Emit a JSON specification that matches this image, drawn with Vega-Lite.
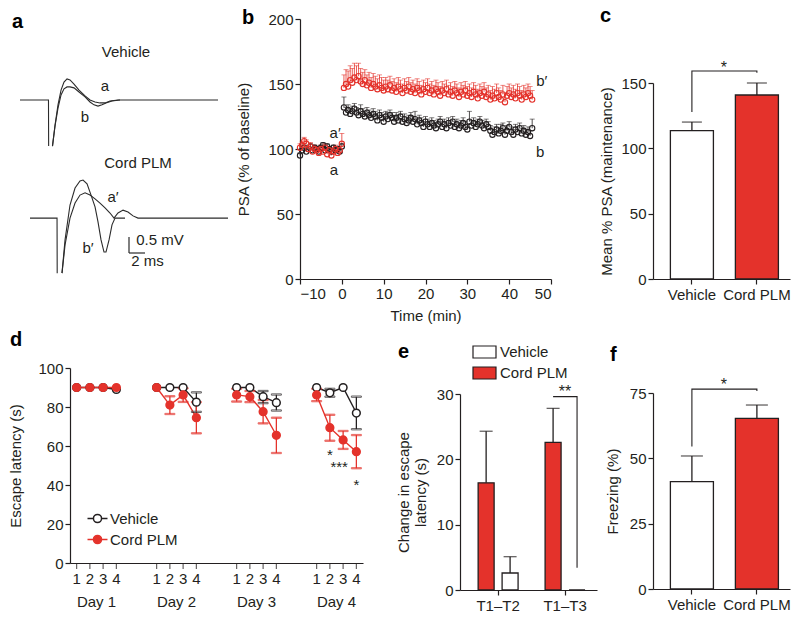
{
  "$schema": "https://vega.github.io/schema/vega-lite/v6.json",
  "autosize": "none",
  "padding": {"left": 70, "top": 19, "right": 730, "bottom": 602},
  "background": "white",
  "columns": 3,
  "bounds": "flush",
  "align": "each",
  "spacing": {"row": 89, "column": 56},
  "resolve": {
    "scale": {"color": "independent", "fill": "independent", "stroke": "independent", "xOffset": "independent"},
    "legend": {"color": "independent", "fill": "independent", "stroke": "independent"}
  },
  "config": {
    "font": "Liberation Sans",
    "view": {"stroke": null},
    "axis": {"grid": false, "domainColor": "#231f20", "tickColor": "#231f20", "labelColor": "#231f20", "titleColor": "#231f20", "labelFontSize": 15, "titleFontSize": 15, "titleFontWeight": "normal", "tickSize": 5, "domainWidth": 1.2, "tickWidth": 1.2, "labelPadding": 2, "labelOverlap": false},
    "legend": {"labelFontSize": 15, "labelColor": "#231f20", "padding": 0, "symbolOpacity": 1},
    "title": {"fontSize": 20, "fontWeight": "bold", "anchor": "start", "frame": "group", "color": "#000000", "offset": 0}
  },
  "datasets": {
    "traces": [
      {"seg":"v1","t":0,"v":4.78},{"seg":"v1","t":3.56,"v":4.78},{"seg":"v1","t":3.58,"v":3.34},
      {"seg":"va","t":4.06,"v":3.34},{"seg":"va","t":4.38,"v":4.0},{"seg":"va","t":4.75,"v":4.63},{"seg":"va","t":5.13,"v":5.09},{"seg":"va","t":5.5,"v":5.34},{"seg":"va","t":5.88,"v":5.44},{"seg":"va","t":6.25,"v":5.41},{"seg":"va","t":6.75,"v":5.28},{"seg":"va","t":7.38,"v":5.09},{"seg":"va","t":8.13,"v":4.91},{"seg":"va","t":8.75,"v":4.78},{"seg":"va","t":9.38,"v":4.72},{"seg":"va","t":10,"v":4.69},{"seg":"va","t":10.63,"v":4.69},{"seg":"va","t":11.25,"v":4.75},{"seg":"va","t":12.25,"v":4.78},{"seg":"va","t":24.75,"v":4.78},
      {"seg":"vb","t":4.06,"v":3.34},{"seg":"vb","t":4.38,"v":3.97},{"seg":"vb","t":4.75,"v":4.53},{"seg":"vb","t":5.13,"v":4.94},{"seg":"vb","t":5.5,"v":5.13},{"seg":"vb","t":5.88,"v":5.19},{"seg":"vb","t":6.25,"v":5.19},{"seg":"vb","t":6.75,"v":5.16},{"seg":"vb","t":7.38,"v":5.03},{"seg":"vb","t":8.13,"v":4.88},{"seg":"vb","t":8.75,"v":4.72},{"seg":"vb","t":9.25,"v":4.63},{"seg":"vb","t":9.75,"v":4.59},{"seg":"vb","t":10.25,"v":4.63},{"seg":"vb","t":10.75,"v":4.69},{"seg":"vb","t":11.5,"v":4.75},{"seg":"vb","t":12.5,"v":4.78},
      {"seg":"c1","t":1.25,"v":1.09},{"seg":"c1","t":4.63,"v":1.09},{"seg":"c1","t":4.65,"v":-0.63},
      {"seg":"cb","t":5.25,"v":-0.63},{"seg":"cb","t":5.63,"v":0.41},{"seg":"cb","t":6.25,"v":1.5},{"seg":"cb","t":6.88,"v":2.03},{"seg":"cb","t":7.5,"v":2.25},{"seg":"cb","t":7.88,"v":2.28},{"seg":"cb","t":8.38,"v":2.16},{"seg":"cb","t":8.88,"v":1.81},{"seg":"cb","t":9.38,"v":1.44},{"seg":"cb","t":9.75,"v":0.97},{"seg":"cb","t":10.13,"v":0.41},{"seg":"cb","t":10.5,"v":0.03},{"seg":"cb","t":10.75,"v":0.03},{"seg":"cb","t":11.13,"v":0.41},{"seg":"cb","t":11.5,"v":0.88},{"seg":"cb","t":11.88,"v":1.09},{"seg":"cb","t":13.13,"v":1.09},
      {"seg":"ca","t":5.25,"v":-0.63},{"seg":"ca","t":5.63,"v":0.25},{"seg":"ca","t":6.25,"v":1.09},{"seg":"ca","t":6.88,"v":1.56},{"seg":"ca","t":7.5,"v":1.81},{"seg":"ca","t":8.13,"v":1.88},{"seg":"ca","t":8.75,"v":1.81},{"seg":"ca","t":9.38,"v":1.69},{"seg":"ca","t":10,"v":1.56},{"seg":"ca","t":10.63,"v":1.41},{"seg":"ca","t":11.25,"v":1.25},{"seg":"ca","t":11.75,"v":1.09},{"seg":"ca","t":12.25,"v":1.25},{"seg":"ca","t":12.88,"v":1.34},{"seg":"ca","t":13.5,"v":1.28},{"seg":"ca","t":14.13,"v":1.16},{"seg":"ca","t":14.75,"v":1.09},{"seg":"ca","t":26,"v":1.09}
    ],
    "scalebar": [
      {"t":13.625,"v":0,"t2":13.625,"v2":0.5},
      {"t":13.625,"v":0,"t2":15.625,"v2":0}
    ],
    "alabels": [
      {"t":13.25,"v":6.28,"label":"Vehicle"},
      {"t":14.75,"v":2.81,"label":"Cord PLM"},
      {"t":10.63,"v":5.22,"label":"a"},
      {"t":8.13,"v":4.25,"label":"b"},
      {"t":11.63,"v":1.75,"label":"a′"},
      {"t":8.5,"v":0.16,"label":"b′"},
      {"t":17.5,"v":0.41,"label":"0.5 mV"},
      {"t":15.94,"v":-0.25,"label":"2 ms"}
    ],
    "blabels": [
      {"t":-1.6,"v":112,"label":"a′"},
      {"t":-1.9,"v":84,"label":"a"},
      {"t":47.8,"v":152,"label":"b′"},
      {"t":47.4,"v":98,"label":"b"}
    ],
    "psa": [
      {"t":-10,"g":"Vehicle","m":95,"hi":97},{"t":-9.5,"g":"Vehicle","m":99,"hi":101},{"t":-9,"g":"Vehicle","m":101,"hi":103},{"t":-8.5,"g":"Vehicle","m":98,"hi":100},{"t":-8,"g":"Vehicle","m":100,"hi":102},{"t":-7.5,"g":"Vehicle","m":102,"hi":104},{"t":-7,"g":"Vehicle","m":99,"hi":101},{"t":-6.5,"g":"Vehicle","m":101,"hi":103},{"t":-6,"g":"Vehicle","m":100,"hi":102},{"t":-5.5,"g":"Vehicle","m":98,"hi":100},{"t":-5,"g":"Vehicle","m":101,"hi":103},{"t":-4.5,"g":"Vehicle","m":103,"hi":105},{"t":-4,"g":"Vehicle","m":99,"hi":101},{"t":-3.5,"g":"Vehicle","m":102,"hi":104},{"t":-3,"g":"Vehicle","m":100,"hi":102},{"t":-2.5,"g":"Vehicle","m":98,"hi":100},{"t":-2,"g":"Vehicle","m":101,"hi":103},{"t":-1.5,"g":"Vehicle","m":99,"hi":101},{"t":-1,"g":"Vehicle","m":100,"hi":102},{"t":-0.5,"g":"Vehicle","m":98,"hi":100},{"t":0,"g":"Vehicle","m":102,"hi":104},
      {"t":0.5,"g":"Vehicle","m":132,"hi":140},{"t":1,"g":"Vehicle","m":128,"hi":132},{"t":1.5,"g":"Vehicle","m":130,"hi":134},{"t":2,"g":"Vehicle","m":127,"hi":131},{"t":2.5,"g":"Vehicle","m":129,"hi":133},{"t":3,"g":"Vehicle","m":131,"hi":135},{"t":3.5,"g":"Vehicle","m":128,"hi":132},{"t":4,"g":"Vehicle","m":126,"hi":131},{"t":4.5,"g":"Vehicle","m":129,"hi":134},{"t":5,"g":"Vehicle","m":127,"hi":131},
      {"t":5.5,"g":"Vehicle","m":125,"hi":129},{"t":6,"g":"Vehicle","m":128,"hi":132},{"t":6.5,"g":"Vehicle","m":126,"hi":130},{"t":7,"g":"Vehicle","m":124,"hi":128},{"t":7.5,"g":"Vehicle","m":127,"hi":131},{"t":8,"g":"Vehicle","m":125,"hi":129},{"t":8.5,"g":"Vehicle","m":122,"hi":126},{"t":9,"g":"Vehicle","m":126,"hi":130},{"t":9.5,"g":"Vehicle","m":124,"hi":128},{"t":10,"g":"Vehicle","m":121,"hi":125},
      {"t":10.5,"g":"Vehicle","m":125,"hi":129},{"t":11,"g":"Vehicle","m":123,"hi":128},{"t":11.5,"g":"Vehicle","m":126,"hi":130},{"t":12,"g":"Vehicle","m":124,"hi":128},{"t":12.5,"g":"Vehicle","m":121,"hi":125},{"t":13,"g":"Vehicle","m":124,"hi":128},{"t":13.5,"g":"Vehicle","m":122,"hi":126},{"t":14,"g":"Vehicle","m":125,"hi":129},{"t":14.5,"g":"Vehicle","m":121,"hi":125},{"t":15,"g":"Vehicle","m":123,"hi":127},
      {"t":15.5,"g":"Vehicle","m":120,"hi":124},{"t":16,"g":"Vehicle","m":122,"hi":126},{"t":16.5,"g":"Vehicle","m":124,"hi":128},{"t":17,"g":"Vehicle","m":121,"hi":125},{"t":17.5,"g":"Vehicle","m":123,"hi":129},{"t":18,"g":"Vehicle","m":119,"hi":123},{"t":18.5,"g":"Vehicle","m":122,"hi":126},{"t":19,"g":"Vehicle","m":120,"hi":124},{"t":19.5,"g":"Vehicle","m":117,"hi":121},{"t":20,"g":"Vehicle","m":121,"hi":125},
      {"t":20.5,"g":"Vehicle","m":119,"hi":123},{"t":21,"g":"Vehicle","m":117,"hi":121},{"t":21.5,"g":"Vehicle","m":120,"hi":124},{"t":22,"g":"Vehicle","m":118,"hi":122},{"t":22.5,"g":"Vehicle","m":116,"hi":120},{"t":23,"g":"Vehicle","m":119,"hi":123},{"t":23.5,"g":"Vehicle","m":121,"hi":125},{"t":24,"g":"Vehicle","m":117,"hi":121},{"t":24.5,"g":"Vehicle","m":119,"hi":123},{"t":25,"g":"Vehicle","m":116,"hi":120},
      {"t":25.5,"g":"Vehicle","m":120,"hi":124},{"t":26,"g":"Vehicle","m":118,"hi":122},{"t":26.5,"g":"Vehicle","m":121,"hi":125},{"t":27,"g":"Vehicle","m":117,"hi":121},{"t":27.5,"g":"Vehicle","m":119,"hi":123},{"t":28,"g":"Vehicle","m":116,"hi":120},{"t":28.5,"g":"Vehicle","m":118,"hi":122},{"t":29,"g":"Vehicle","m":120,"hi":124},{"t":29.5,"g":"Vehicle","m":117,"hi":121},{"t":30,"g":"Vehicle","m":115,"hi":119},
      {"t":30.5,"g":"Vehicle","m":121,"hi":129},{"t":31,"g":"Vehicle","m":118,"hi":122},{"t":31.5,"g":"Vehicle","m":120,"hi":124},{"t":32,"g":"Vehicle","m":117,"hi":121},{"t":32.5,"g":"Vehicle","m":119,"hi":123},{"t":33,"g":"Vehicle","m":121,"hi":125},{"t":33.5,"g":"Vehicle","m":118,"hi":122},{"t":34,"g":"Vehicle","m":116,"hi":120},{"t":34.5,"g":"Vehicle","m":119,"hi":123},{"t":35,"g":"Vehicle","m":117,"hi":121},
      {"t":35.5,"g":"Vehicle","m":114,"hi":118},{"t":36,"g":"Vehicle","m":111,"hi":115},{"t":36.5,"g":"Vehicle","m":113,"hi":117},{"t":37,"g":"Vehicle","m":115,"hi":119},{"t":37.5,"g":"Vehicle","m":112,"hi":116},{"t":38,"g":"Vehicle","m":114,"hi":119},{"t":38.5,"g":"Vehicle","m":116,"hi":120},{"t":39,"g":"Vehicle","m":111,"hi":115},{"t":39.5,"g":"Vehicle","m":114,"hi":118},{"t":40,"g":"Vehicle","m":117,"hi":121},
      {"t":40.5,"g":"Vehicle","m":113,"hi":117},{"t":41,"g":"Vehicle","m":111,"hi":115},{"t":41.5,"g":"Vehicle","m":115,"hi":119},{"t":42,"g":"Vehicle","m":113,"hi":117},{"t":42.5,"g":"Vehicle","m":116,"hi":120},{"t":43,"g":"Vehicle","m":112,"hi":116},{"t":43.5,"g":"Vehicle","m":114,"hi":118},{"t":44,"g":"Vehicle","m":111,"hi":115},{"t":44.5,"g":"Vehicle","m":113,"hi":117},{"t":45,"g":"Vehicle","m":110,"hi":114},{"t":45.5,"g":"Vehicle","m":116,"hi":123},
      {"t":-10,"g":"Cord PLM","m":101,"hi":104},{"t":-9.5,"g":"Cord PLM","m":103,"hi":106},{"t":-9,"g":"Cord PLM","m":106,"hi":109},{"t":-8.5,"g":"Cord PLM","m":104,"hi":107},{"t":-8,"g":"Cord PLM","m":100,"hi":103},{"t":-7.5,"g":"Cord PLM","m":102,"hi":105},{"t":-7,"g":"Cord PLM","m":98,"hi":101},{"t":-6.5,"g":"Cord PLM","m":100,"hi":103},{"t":-6,"g":"Cord PLM","m":99,"hi":102},{"t":-5.5,"g":"Cord PLM","m":97,"hi":100},{"t":-5,"g":"Cord PLM","m":100,"hi":103},{"t":-4.5,"g":"Cord PLM","m":98,"hi":101},{"t":-4,"g":"Cord PLM","m":101,"hi":104},{"t":-3.5,"g":"Cord PLM","m":96,"hi":99},{"t":-3,"g":"Cord PLM","m":99,"hi":102},{"t":-2.5,"g":"Cord PLM","m":95,"hi":98},{"t":-2,"g":"Cord PLM","m":98,"hi":101},{"t":-1.5,"g":"Cord PLM","m":100,"hi":103},{"t":-1,"g":"Cord PLM","m":97,"hi":100},{"t":-0.5,"g":"Cord PLM","m":99,"hi":102},{"t":0,"g":"Cord PLM","m":104,"hi":112},
      {"t":0.5,"g":"Cord PLM","m":147,"hi":157},{"t":1,"g":"Cord PLM","m":150,"hi":161},{"t":1.5,"g":"Cord PLM","m":148,"hi":160},{"t":2,"g":"Cord PLM","m":153,"hi":164},{"t":2.5,"g":"Cord PLM","m":151,"hi":162},{"t":3,"g":"Cord PLM","m":155,"hi":166},{"t":3.5,"g":"Cord PLM","m":153,"hi":164},{"t":4,"g":"Cord PLM","m":156,"hi":166},{"t":4.5,"g":"Cord PLM","m":152,"hi":162},{"t":5,"g":"Cord PLM","m":150,"hi":159},
      {"t":5.5,"g":"Cord PLM","m":153,"hi":161},{"t":6,"g":"Cord PLM","m":149,"hi":157},{"t":6.5,"g":"Cord PLM","m":151,"hi":159},{"t":7,"g":"Cord PLM","m":147,"hi":155},{"t":7.5,"g":"Cord PLM","m":150,"hi":158},{"t":8,"g":"Cord PLM","m":148,"hi":156},{"t":8.5,"g":"Cord PLM","m":146,"hi":154},{"t":9,"g":"Cord PLM","m":149,"hi":157},{"t":9.5,"g":"Cord PLM","m":147,"hi":155},{"t":10,"g":"Cord PLM","m":145,"hi":153},
      {"t":10.5,"g":"Cord PLM","m":148,"hi":155},{"t":11,"g":"Cord PLM","m":146,"hi":153},{"t":11.5,"g":"Cord PLM","m":149,"hi":156},{"t":12,"g":"Cord PLM","m":145,"hi":152},{"t":12.5,"g":"Cord PLM","m":147,"hi":154},{"t":13,"g":"Cord PLM","m":144,"hi":151},{"t":13.5,"g":"Cord PLM","m":148,"hi":155},{"t":14,"g":"Cord PLM","m":146,"hi":153},{"t":14.5,"g":"Cord PLM","m":143,"hi":150},{"t":15,"g":"Cord PLM","m":147,"hi":154},
      {"t":15.5,"g":"Cord PLM","m":145,"hi":152},{"t":16,"g":"Cord PLM","m":148,"hi":155},{"t":16.5,"g":"Cord PLM","m":144,"hi":151},{"t":17,"g":"Cord PLM","m":146,"hi":153},{"t":17.5,"g":"Cord PLM","m":143,"hi":150},{"t":18,"g":"Cord PLM","m":147,"hi":154},{"t":18.5,"g":"Cord PLM","m":145,"hi":152},{"t":19,"g":"Cord PLM","m":142,"hi":149},{"t":19.5,"g":"Cord PLM","m":146,"hi":153},{"t":20,"g":"Cord PLM","m":144,"hi":151},
      {"t":20.5,"g":"Cord PLM","m":147,"hi":154},{"t":21,"g":"Cord PLM","m":143,"hi":150},{"t":21.5,"g":"Cord PLM","m":145,"hi":152},{"t":22,"g":"Cord PLM","m":142,"hi":149},{"t":22.5,"g":"Cord PLM","m":146,"hi":153},{"t":23,"g":"Cord PLM","m":144,"hi":151},{"t":23.5,"g":"Cord PLM","m":141,"hi":148},{"t":24,"g":"Cord PLM","m":145,"hi":152},{"t":24.5,"g":"Cord PLM","m":143,"hi":150},{"t":25,"g":"Cord PLM","m":146,"hi":153},
      {"t":25.5,"g":"Cord PLM","m":142,"hi":149},{"t":26,"g":"Cord PLM","m":144,"hi":151},{"t":26.5,"g":"Cord PLM","m":141,"hi":148},{"t":27,"g":"Cord PLM","m":145,"hi":152},{"t":27.5,"g":"Cord PLM","m":143,"hi":150},{"t":28,"g":"Cord PLM","m":140,"hi":147},{"t":28.5,"g":"Cord PLM","m":144,"hi":151},{"t":29,"g":"Cord PLM","m":142,"hi":149},{"t":29.5,"g":"Cord PLM","m":145,"hi":152},{"t":30,"g":"Cord PLM","m":141,"hi":148},
      {"t":30.5,"g":"Cord PLM","m":143,"hi":150},{"t":31,"g":"Cord PLM","m":140,"hi":147},{"t":31.5,"g":"Cord PLM","m":144,"hi":151},{"t":32,"g":"Cord PLM","m":142,"hi":149},{"t":32.5,"g":"Cord PLM","m":139,"hi":146},{"t":33,"g":"Cord PLM","m":143,"hi":150},{"t":33.5,"g":"Cord PLM","m":141,"hi":148},{"t":34,"g":"Cord PLM","m":144,"hi":151},{"t":34.5,"g":"Cord PLM","m":140,"hi":147},{"t":35,"g":"Cord PLM","m":142,"hi":149},
      {"t":35.5,"g":"Cord PLM","m":138,"hi":145},{"t":36,"g":"Cord PLM","m":141,"hi":148},{"t":36.5,"g":"Cord PLM","m":139,"hi":146},{"t":37,"g":"Cord PLM","m":143,"hi":150},{"t":37.5,"g":"Cord PLM","m":140,"hi":147},{"t":38,"g":"Cord PLM","m":138,"hi":145},{"t":38.5,"g":"Cord PLM","m":142,"hi":149},{"t":39,"g":"Cord PLM","m":136,"hi":143},{"t":39.5,"g":"Cord PLM","m":141,"hi":148},{"t":40,"g":"Cord PLM","m":143,"hi":150},
      {"t":40.5,"g":"Cord PLM","m":140,"hi":147},{"t":41,"g":"Cord PLM","m":142,"hi":149},{"t":41.5,"g":"Cord PLM","m":139,"hi":146},{"t":42,"g":"Cord PLM","m":143,"hi":150},{"t":42.5,"g":"Cord PLM","m":141,"hi":148},{"t":43,"g":"Cord PLM","m":138,"hi":145},{"t":43.5,"g":"Cord PLM","m":142,"hi":149},{"t":44,"g":"Cord PLM","m":140,"hi":147},{"t":44.5,"g":"Cord PLM","m":143,"hi":150},{"t":45,"g":"Cord PLM","m":141,"hi":148},{"t":45.5,"g":"Cord PLM","m":138,"hi":145}
    ],
    "cbars": [
      {"g":"Vehicle","m":113.5,"hi":120.1},
      {"g":"Cord PLM","m":140.8,"hi":150}
    ],
    "cbracket": [
      {"g":"Vehicle","y":127.8,"k":1},{"g":"Vehicle","y":159.2,"k":2},{"g":"Cord PLM","y":159.2,"k":3},{"g":"Cord PLM","y":157.8,"k":4}
    ],
    "cstar": [{"g":"Vehicle","y":161.5,"s":"*"}],
    "water": [
      {"g":"Vehicle","day":"Day 1","trial":1,"m":90},{"g":"Vehicle","day":"Day 1","trial":2,"m":90},{"g":"Vehicle","day":"Day 1","trial":3,"m":90},{"g":"Vehicle","day":"Day 1","trial":4,"m":89},
      {"g":"Vehicle","day":"Day 2","trial":1,"m":90},{"g":"Vehicle","day":"Day 2","trial":2,"m":90},{"g":"Vehicle","day":"Day 2","trial":3,"m":90},{"g":"Vehicle","day":"Day 2","trial":4,"m":82.5,"lo":77.5,"hi":87.5},
      {"g":"Vehicle","day":"Day 3","trial":1,"m":90},{"g":"Vehicle","day":"Day 3","trial":2,"m":90},{"g":"Vehicle","day":"Day 3","trial":3,"m":85.3,"lo":82,"hi":88.2},{"g":"Vehicle","day":"Day 3","trial":4,"m":82.2,"lo":78.2,"hi":86.4},
      {"g":"Vehicle","day":"Day 4","trial":1,"m":90},{"g":"Vehicle","day":"Day 4","trial":2,"m":87.3,"lo":85.3,"hi":89.3},{"g":"Vehicle","day":"Day 4","trial":3,"m":90},{"g":"Vehicle","day":"Day 4","trial":4,"m":76.9,"lo":68.6,"hi":85.3},
      {"g":"Cord PLM","day":"Day 1","trial":1,"m":90},{"g":"Cord PLM","day":"Day 1","trial":2,"m":90},{"g":"Cord PLM","day":"Day 1","trial":3,"m":90},{"g":"Cord PLM","day":"Day 1","trial":4,"m":90},
      {"g":"Cord PLM","day":"Day 2","trial":1,"m":90},{"g":"Cord PLM","day":"Day 2","trial":2,"m":81,"lo":76.4,"hi":85.5},{"g":"Cord PLM","day":"Day 2","trial":3,"m":86.2,"lo":82.6,"hi":89.6},{"g":"Cord PLM","day":"Day 2","trial":4,"m":74.5,"lo":66.5,"hi":82.5},
      {"g":"Cord PLM","day":"Day 3","trial":1,"m":86.2,"lo":82.8,"hi":89.4},{"g":"Cord PLM","day":"Day 3","trial":2,"m":85.3,"lo":82.5,"hi":88.2},{"g":"Cord PLM","day":"Day 3","trial":3,"m":77.6,"lo":71.6,"hi":83.6},{"g":"Cord PLM","day":"Day 3","trial":4,"m":65.5,"lo":56.4,"hi":74.5},
      {"g":"Cord PLM","day":"Day 4","trial":1,"m":86.2,"lo":83,"hi":89.4},{"g":"Cord PLM","day":"Day 4","trial":2,"m":69.4,"lo":62.7,"hi":76},{"g":"Cord PLM","day":"Day 4","trial":3,"m":63.1,"lo":58.5,"hi":67.7},{"g":"Cord PLM","day":"Day 4","trial":4,"m":57.1,"lo":48.6,"hi":65.6}
    ],
    "dstars": [
      {"day":"Day 4","trial":2,"y":55.4,"s":"*"},
      {"day":"Day 4","trial":3,"y":49.2,"s":"***"},
      {"day":"Day 4","trial":4,"y":40,"s":"*"}
    ],
    "delta": [
      {"pair":"T1–T2","g":"Cord PLM","m":16.4,"hi":24.3},
      {"pair":"T1–T2","g":"Vehicle","m":2.6,"hi":5.1},
      {"pair":"T1–T3","g":"Cord PLM","m":22.6,"hi":27.8},
      {"pair":"T1–T3","g":"Vehicle","m":0}
    ],
    "ebracket": [
      {"pair":"T1–T3","g":"Cord PLM","y":29.6,"k":1},
      {"pair":"T1–T3","g":"Vehicle","y":29.6,"k":2},
      {"pair":"T1–T3","g":"Vehicle","y":3.4,"k":3}
    ],
    "estar": [{"pair":"T1–T3","y":30.3,"s":"**"}],
    "fbars": [
      {"g":"Vehicle","m":41.1,"hi":50.9},
      {"g":"Cord PLM","m":65.3,"hi":70.4}
    ],
    "fbracket": [
      {"g":"Vehicle","y":54.5,"k":1},{"g":"Vehicle","y":76.5,"k":2},{"g":"Cord PLM","y":76.5,"k":3},{"g":"Cord PLM","y":75.8,"k":4}
    ],
    "fstar": [{"g":"Vehicle","y":78.2,"s":"*"}]
  },
  "concat": [
    {
      "width": 334, "height": 234,
      "title": {"text": "a", "dx": -58, "dy": 17},
      "layer": [
        {
          "data": {"name": "traces"},
          "mark": {"type": "line", "color": "#2b2b2b", "strokeWidth": 1.1},
          "encoding": {
            "x": {"field": "t", "type": "quantitative", "scale": {"domain": [6.25, 48], "nice": false, "zero": false}, "axis": null},
            "y": {"field": "v", "type": "quantitative", "scale": {"domain": [0, 7.3125], "nice": false, "zero": false}, "axis": null},
            "detail": {"field": "seg", "type": "nominal"}
          }
        },
        {
          "data": {"name": "scalebar"},
          "mark": {"type": "rule", "color": "#2b2b2b", "strokeWidth": 1.2},
          "encoding": {
            "x": {"field": "t", "type": "quantitative"},
            "y": {"field": "v", "type": "quantitative"},
            "x2": {"field": "t2"},
            "y2": {"field": "v2"}
          }
        },
        {
          "data": {"name": "alabels"},
          "mark": {"type": "text", "fontSize": 15, "color": "#231f20", "baseline": "middle"},
          "encoding": {
            "x": {"field": "t", "type": "quantitative"},
            "y": {"field": "v", "type": "quantitative"},
            "text": {"field": "label"}
          }
        }
      ]
    },
    {
      "width": 137, "height": 260,
      "title": {"text": "b", "dx": -218, "dy": 20},
      "encoding": {
        "x": {"field": "t", "type": "quantitative", "scale": {"domain": [-10, 50], "range": [-160, 91], "nice": false, "zero": false}, "axis": {"values": [-10, 0, 10, 20, 30, 40, 50], "title": "Time (min)", "titlePadding": 7}}
      },
      "layer": [
        {
          "data": {"name": "psa"},
          "mark": {"type": "rule", "strokeWidth": 0.8},
          "encoding": {
            "y": {"field": "m", "type": "quantitative", "scale": {"domain": [0, 200], "nice": false}, "axis": {"values": [0, 50, 100, 150, 200], "title": "PSA (% of baseline)", "titlePadding": 16, "offset": 160}},
            "y2": {"field": "hi"},
            "color": {"field": "g", "type": "nominal", "scale": {"domain": ["Vehicle", "Cord PLM"], "range": ["#231f20", "#e4322b"]}, "legend": null}
          }
        },
        {
          "data": {"name": "psa"},
          "mark": {"type": "tick", "orient": "horizontal", "size": 5, "thickness": 0.8},
          "encoding": {
            "y": {"field": "hi", "type": "quantitative"},
            "color": {"field": "g", "type": "nominal", "legend": null}
          }
        },
        {
          "data": {"name": "psa"},
          "mark": {"type": "point", "shape": "circle", "filled": false, "size": 28, "strokeWidth": 1.1, "opacity": 1},
          "encoding": {
            "y": {"field": "m", "type": "quantitative"},
            "stroke": {"field": "g", "type": "nominal", "scale": {"domain": ["Vehicle", "Cord PLM"], "range": ["#231f20", "#e4322b"]}, "legend": {"orient": "none", "legendX": -142, "legendY": 201, "title": null, "symbolType": "circle", "symbolSize": 38, "symbolStrokeWidth": 1.2, "symbolFillColor": "#ffffff", "labelFontSize": 15, "rowPadding": 5, "labelOffset": 1, "encode": {"symbols": {"update": {"fill": {"value": "#ffffff"}, "opacity": {"value": 1}}}}}}
          }
        },
        {
          "data": {"name": "blabels"},
          "mark": {"type": "text", "fontSize": 15, "color": "#231f20", "baseline": "middle"},
          "encoding": {
            "y": {"field": "v", "type": "quantitative"},
            "text": {"field": "label"}
          }
        }
      ]
    },
    {
      "width": 137, "height": 260,
      "title": {"text": "c", "dx": -53, "dy": 11},
      "encoding": {
        "x": {"field": "g", "type": "nominal", "sort": null, "scale": {"type": "band", "domain": ["Vehicle", "Cord PLM"], "paddingInner": 0.338, "paddingOuter": 0.223, "align": 0.6}, "axis": {"title": null, "labelAngle": 0, "labelPadding": 3}}
      },
      "layer": [
        {
          "data": {"name": "cbars"},
          "mark": {"type": "bar", "stroke": "#231f20", "strokeWidth": 1.3},
          "encoding": {
            "y": {"field": "m", "type": "quantitative", "scale": {"domain": [0, 150], "range": [260, 64], "nice": false}, "axis": {"values": [0, 50, 100, 150], "title": "Mean % PSA (maintenance)", "titlePadding": 6}},
            "fill": {"field": "g", "type": "nominal", "scale": {"domain": ["Vehicle", "Cord PLM"], "range": ["#ffffff", "#e4322b"]}, "legend": null}
          }
        },
        {
          "data": {"name": "cbars"},
          "mark": {"type": "rule", "color": "#231f20", "strokeWidth": 1.3},
          "encoding": {"y": {"field": "m", "type": "quantitative"}, "y2": {"field": "hi"}}
        },
        {
          "data": {"name": "cbars"},
          "mark": {"type": "tick", "orient": "horizontal", "size": 20, "thickness": 1.3, "color": "#231f20"},
          "encoding": {"y": {"field": "hi", "type": "quantitative"}}
        },
        {
          "data": {"name": "cbracket"},
          "mark": {"type": "line", "color": "#231f20", "strokeWidth": 1.1},
          "encoding": {"y": {"field": "y", "type": "quantitative"}, "order": {"field": "k", "type": "quantitative"}}
        },
        {
          "data": {"name": "cstar"},
          "mark": {"type": "text", "fontSize": 16, "dx": 32, "baseline": "middle", "color": "#231f20"},
          "encoding": {"y": {"field": "y", "type": "quantitative"}, "text": {"field": "s"}}
        }
      ]
    },
    {
      "width": 293, "height": 195,
      "title": {"text": "d", "dx": -60, "dy": -7},
      "encoding": {
        "x": {"field": "day", "type": "nominal", "sort": null, "scale": {"type": "band", "domain": ["Day 1", "Day 2", "Day 3", "Day 4"], "paddingInner": 0.3375, "paddingOuter": 0}, "axis": {"title": null, "ticks": false, "labelPadding": 31, "labelAngle": 0}}
      },
      "layer": [
        {
          "data": {"name": "water"},
          "mark": {"type": "line", "strokeWidth": 1.4},
          "encoding": {
            "xOffset": {"field": "trial", "type": "nominal", "scale": {"type": "band", "domain": [1, 2, 3, 4], "paddingInner": 0, "paddingOuter": 0}},
            "y": {"field": "m", "type": "quantitative", "scale": {"domain": [0, 100], "nice": false}, "axis": {"values": [0, 20, 40, 60, 80, 100], "tickCount": 6, "title": "Escape latency (s)", "titlePadding": 14, "labelOverlap": false}},
            "stroke": {"field": "g", "type": "nominal", "scale": {"domain": ["Vehicle", "Cord PLM"], "range": ["#231f20", "#e4322b"]}},
            "detail": {"field": "day", "type": "nominal"},
            "order": {"field": "trial", "type": "quantitative"}
          }
        },
        {
          "data": {"name": "water"},
          "mark": {"type": "rule", "strokeWidth": 1.3},
          "encoding": {
            "xOffset": {"field": "trial", "type": "nominal"},
            "y": {"field": "lo", "type": "quantitative"},
            "y2": {"field": "hi"},
            "stroke": {"field": "g", "type": "nominal"}
          }
        },
        {
          "data": {"name": "water"},
          "mark": {"type": "tick", "orient": "horizontal", "size": 10, "thickness": 1.3},
          "encoding": {"xOffset": {"field": "trial", "type": "nominal"}, "y": {"field": "lo", "type": "quantitative"}, "stroke": {"field": "g", "type": "nominal"}, "fill": {"field": "g", "type": "nominal"}}
        },
        {
          "data": {"name": "water"},
          "mark": {"type": "tick", "orient": "horizontal", "size": 10, "thickness": 1.3},
          "encoding": {"xOffset": {"field": "trial", "type": "nominal"}, "y": {"field": "hi", "type": "quantitative"}, "stroke": {"field": "g", "type": "nominal"}, "fill": {"field": "g", "type": "nominal"}}
        },
        {
          "data": {"name": "water"},
          "mark": {"type": "point", "shape": "circle", "size": 60, "strokeWidth": 1.5, "opacity": 1, "filled": true},
          "encoding": {
            "xOffset": {"field": "trial", "type": "nominal"},
            "y": {"field": "m", "type": "quantitative"},
            "stroke": {"field": "g", "type": "nominal", "legend": {"orient": "none", "legendX": 20, "legendY": 143, "title": null, "symbolType": "M-1.6,0H-0.65M0.65,0H1.6M-0.65,0A0.65,0.65,0,1,1,0.65,0A0.65,0.65,0,1,1,-0.65,0", "symbolSize": 156, "symbolStrokeWidth": 1.5, "symbolOpacity": 1, "labelFontSize": 15, "rowPadding": 5, "labelOffset": 5}},
            "fill": {"field": "g", "type": "nominal", "scale": {"domain": ["Vehicle", "Cord PLM"], "range": ["#ffffff", "#e4322b"]}, "legend": {"orient": "none", "legendX": 20, "legendY": 143, "title": null, "symbolType": "M-1.6,0H-0.65M0.65,0H1.6M-0.65,0A0.65,0.65,0,1,1,0.65,0A0.65,0.65,0,1,1,-0.65,0", "symbolSize": 156, "symbolStrokeWidth": 1.5, "symbolOpacity": 1, "labelFontSize": 15, "rowPadding": 5, "labelOffset": 5}}
          }
        },
        {
          "data": {"name": "dstars"},
          "transform": [{"filter": "datum.s === '*'"}],
          "mark": {"type": "text", "fontSize": 15, "baseline": "middle", "color": "#231f20"},
          "encoding": {"xOffset": {"field": "trial", "type": "nominal"}, "y": {"field": "y", "type": "quantitative"}, "text": {"field": "s"}}
        },
        {
          "data": {"name": "dstars"},
          "transform": [{"filter": "datum.s === '***'"}],
          "mark": {"type": "text", "fontSize": 15, "baseline": "middle", "dx": -4, "color": "#231f20"},
          "encoding": {"xOffset": {"field": "trial", "type": "nominal"}, "y": {"field": "y", "type": "quantitative"}, "text": {"field": "s"}}
        },
        {
          "data": {"name": "water"},
          "transform": [{"filter": "datum.g === 'Vehicle'"}],
          "mark": {"type": "tick", "orient": "vertical", "size": 6, "thickness": 1.2, "yOffset": 3, "color": "#231f20"},
          "encoding": {"xOffset": {"field": "trial", "type": "nominal"}, "y": {"datum": 0, "type": "quantitative"}}
        },
        {
          "data": {"name": "water"},
          "transform": [{"filter": "datum.g === 'Vehicle'"}],
          "mark": {"type": "text", "fontSize": 15, "dy": 16, "baseline": "middle", "color": "#231f20"},
          "encoding": {"xOffset": {"field": "trial", "type": "nominal"}, "y": {"datum": 0, "type": "quantitative"}, "text": {"field": "trial", "type": "nominal"}}
        }
      ]
    },
    {
      "width": 137, "height": 222,
      "title": {"text": "e", "dx": -62, "dy": 25},
      "encoding": {
        "x": {"field": "pair", "type": "nominal", "sort": null, "scale": {"type": "band", "domain": ["T1–T2", "T1–T3"], "paddingInner": 0.284, "paddingOuter": 0.165, "align": 0.64}, "axis": {"title": null, "labelAngle": 0, "labelPadding": 3}}
      },
      "layer": [
        {
          "data": {"name": "delta"},
          "mark": {"type": "bar", "stroke": "#231f20", "strokeWidth": 1.3},
          "encoding": {
            "xOffset": {"field": "g", "type": "nominal", "scale": {"type": "band", "domain": ["Cord PLM", "Vehicle"], "paddingInner": 0.333, "paddingOuter": 0.167}},
            "y": {"field": "m", "type": "quantitative", "scale": {"domain": [0, 30], "range": [222, 26], "nice": false}, "axis": {"values": [0, 10, 20, 30], "title": ["Change in escape", "latency (s)"], "titlePadding": 8}},
            "fill": {"field": "g", "type": "nominal", "scale": {"domain": ["Vehicle", "Cord PLM"], "range": ["#ffffff", "#e4322b"]}, "legend": {"orient": "none", "legendX": 13.5, "legendY": -27, "title": null, "symbolType": "M-1.15,-0.6H1.15V0.6H-1.15Z", "symbolSize": 400, "symbolStrokeColor": "#231f20", "symbolStrokeWidth": 1.2, "labelFontSize": 15, "rowPadding": 1, "labelOffset": 4.5}}
          }
        },
        {
          "data": {"name": "delta"},
          "transform": [{"filter": "datum.m > 0"}],
          "mark": {"type": "rule", "color": "#231f20", "strokeWidth": 1.3},
          "encoding": {"xOffset": {"field": "g", "type": "nominal"}, "y": {"field": "m", "type": "quantitative"}, "y2": {"field": "hi"}}
        },
        {
          "data": {"name": "delta"},
          "transform": [{"filter": "datum.m > 0"}],
          "mark": {"type": "tick", "orient": "horizontal", "size": 13, "thickness": 1.3, "color": "#231f20"},
          "encoding": {"xOffset": {"field": "g", "type": "nominal"}, "y": {"field": "hi", "type": "quantitative"}}
        },
        {
          "data": {"name": "ebracket"},
          "mark": {"type": "line", "color": "#231f20", "strokeWidth": 1.1},
          "encoding": {"xOffset": {"field": "g", "type": "nominal"}, "y": {"field": "y", "type": "quantitative"}, "order": {"field": "k", "type": "quantitative"}}
        },
        {
          "data": {"name": "estar"},
          "mark": {"type": "text", "fontSize": 16, "baseline": "middle", "color": "#231f20"},
          "encoding": {"y": {"field": "y", "type": "quantitative"}, "text": {"field": "s"}}
        }
      ]
    },
    {
      "width": 137, "height": 221,
      "title": {"text": "f", "dx": -43, "dy": 1},
      "encoding": {
        "x": {"field": "g", "type": "nominal", "sort": null, "scale": {"type": "band", "domain": ["Vehicle", "Cord PLM"], "paddingInner": 0.338, "paddingOuter": 0.223, "align": 0.6}, "axis": {"title": null, "labelAngle": 0, "labelPadding": 3}}
      },
      "layer": [
        {
          "data": {"name": "fbars"},
          "mark": {"type": "bar", "stroke": "#231f20", "strokeWidth": 1.3},
          "encoding": {
            "y": {"field": "m", "type": "quantitative", "scale": {"domain": [0, 75], "range": [221, 25], "nice": false}, "axis": {"values": [0, 25, 50, 75], "title": "Freezing (%)", "titlePadding": 9}},
            "fill": {"field": "g", "type": "nominal", "scale": {"domain": ["Vehicle", "Cord PLM"], "range": ["#ffffff", "#e4322b"]}, "legend": null}
          }
        },
        {
          "data": {"name": "fbars"},
          "mark": {"type": "rule", "color": "#231f20", "strokeWidth": 1.3},
          "encoding": {"y": {"field": "m", "type": "quantitative"}, "y2": {"field": "hi"}}
        },
        {
          "data": {"name": "fbars"},
          "mark": {"type": "tick", "orient": "horizontal", "size": 22, "thickness": 1.3, "color": "#231f20"},
          "encoding": {"y": {"field": "hi", "type": "quantitative"}}
        },
        {
          "data": {"name": "fbracket"},
          "mark": {"type": "line", "color": "#231f20", "strokeWidth": 1.1},
          "encoding": {"y": {"field": "y", "type": "quantitative"}, "order": {"field": "k", "type": "quantitative"}}
        },
        {
          "data": {"name": "fstar"},
          "mark": {"type": "text", "fontSize": 16, "dx": 32, "baseline": "middle", "color": "#231f20"},
          "encoding": {"y": {"field": "y", "type": "quantitative"}, "text": {"field": "s"}}
        }
      ]
    }
  ]
}
